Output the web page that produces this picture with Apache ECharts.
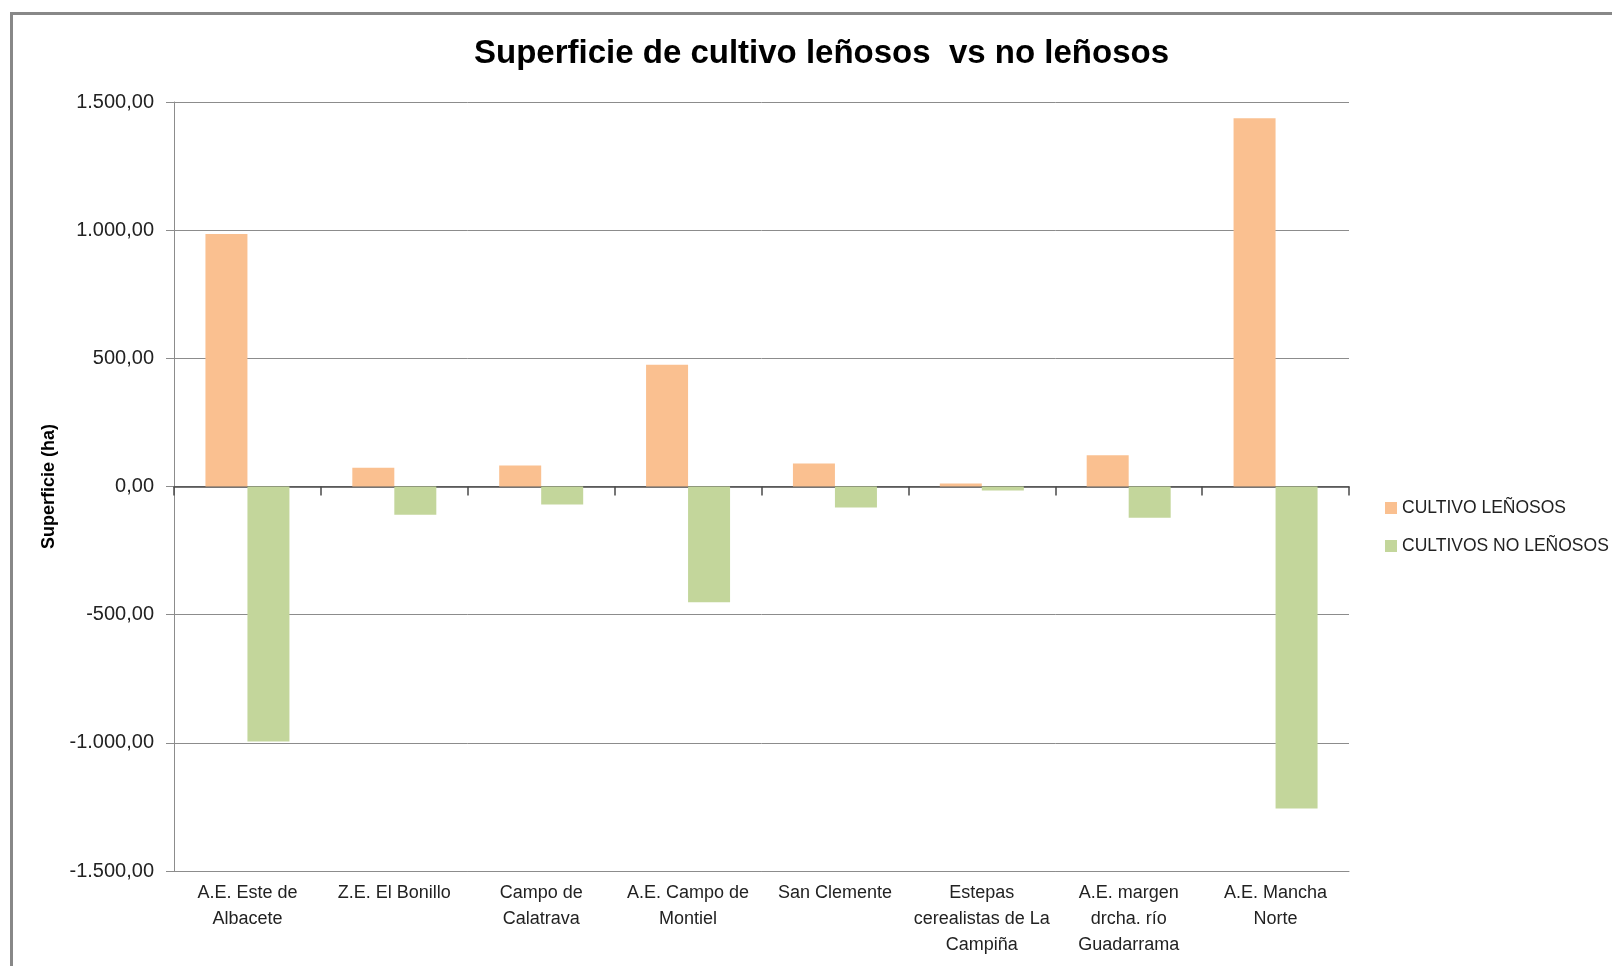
<!DOCTYPE html>
<html>
<head>
<meta charset="utf-8">
<script src="https://cdn.jsdelivr.net/npm/echarts@6/dist/echarts.min.js"></script>
<style>
  html, body { margin: 0; padding: 0; background: #fff; }
  #chart { width: 1612px; height: 966px; }
</style>
</head>
<body>
<div id="chart"></div>
<script>
// zonas (tick labels, already split in lines as in the picture)
var zonas = [
  'A.E. Este de\nAlbacete',
  'Z.E. El Bonillo',
  'Campo de\nCalatrava',
  'A.E. Campo de\nMontiel',
  'San Clemente',
  'Estepas\ncerealistas de La\nCampiña',
  'A.E. margen\ndrcha. río\nGuadarrama',
  'A.E. Mancha\nNorte'
];
var lenosos = [985, 73, 82, 475, 90, 12, 122, 1437];
var noLenosos = [-995, -110, -70, -452, -82, -16, -122, -1256];
var serieNames = ['CULTIVO LEÑOSOS', 'CULTIVOS NO LEÑOSOS'];

var FONT = '"Liberation Sans", Arial, sans-serif';

// 1500 -> "1.500,00"
function fmtNum(v) {
  var neg = v < 0;
  var s = Math.abs(v).toFixed(2).split('.');
  var ent = s[0].replace(/\B(?=(\d{3})+(?!\d))/g, '.');
  return (neg ? '-' : '') + ent + ',' + s[1];
}

var myChart = echarts.init(document.getElementById('chart'));

var option = {
  backgroundColor: '#fff',
  animation: false,
  textStyle: { fontFamily: FONT },
  title: {
    text: 'Superficie de cultivo leñosos  vs no leñosos',
    left: 474,
    top: 37,
    padding: 0,
    textStyle: { fontFamily: FONT, fontWeight: 'bold', fontSize: 33, color: '#000' }
  },
  graphic: [{
    type: 'rect',
    left: 9,
    top: 11,
    shape: { width: 1700, height: 1100 },
    style: { fill: 'none', stroke: '#888', lineWidth: 3 },
    silent: true
  }],
  legend: {
    orient: 'vertical',
    left: 1380,
    top: 494,
    itemWidth: 12,
    itemHeight: 12,
    itemGap: 20,
    icon: 'rect',
    textStyle: { fontFamily: FONT, fontSize: 17.5, color: '#222' },
    data: serieNames
  },
  grid: { left: 174, right: 263, top: 102, bottom: 95 },
  xAxis: [
    {
      // zero line with ticks
      type: 'category',
      data: zonas,
      position: 'bottom',
      axisLine: { onZero: true, lineStyle: { color: '#4a4a4a', width: 1.5 } },
      axisTick: { show: true, length: 9, lineStyle: { color: '#4a4a4a', width: 1.5 } },
      axisLabel: { show: false }
    },
    {
      // labels at the bottom of the plot
      type: 'category',
      data: zonas,
      position: 'bottom',
      axisLine: { onZero: false, lineStyle: { color: '#8c8c8c' } },
      axisTick: { show: false },
      axisLabel: {
        margin: 9,
        interval: 0,
        fontFamily: FONT,
        fontSize: 18,
        lineHeight: 26,
        color: '#222'
      }
    }
  ],
  yAxis: {
    type: 'value',
    min: -1500,
    max: 1500,
    interval: 500,
    name: 'Superficie (ha)',
    nameLocation: 'middle',
    nameGap: 116,
    nameTextStyle: { fontFamily: FONT, fontWeight: 'bold', fontSize: 18, color: '#000' },
    axisLine: { show: true, lineStyle: { color: '#8c8c8c' } },
    axisTick: { show: true, length: 8, lineStyle: { color: '#8c8c8c' } },
    axisLabel: {
      margin: 20,
      fontFamily: FONT,
      fontSize: 20,
      color: '#222',
      formatter: fmtNum
    },
    splitLine: { show: true, lineStyle: { color: '#8c8c8c', width: 1 } }
  },
  series: [
    {
      name: serieNames[0],
      type: 'bar',
      xAxisIndex: 0,
      data: lenosos,
      barWidth: 42,
      barGap: '0%',
      itemStyle: { color: '#FAC090' }
    },
    {
      name: serieNames[1],
      type: 'bar',
      xAxisIndex: 0,
      data: noLenosos,
      barWidth: 42,
      barGap: '0%',
      itemStyle: { color: '#C3D69B' }
    }
  ]
};

myChart.setOption(option);
</script>
</body>
</html>
